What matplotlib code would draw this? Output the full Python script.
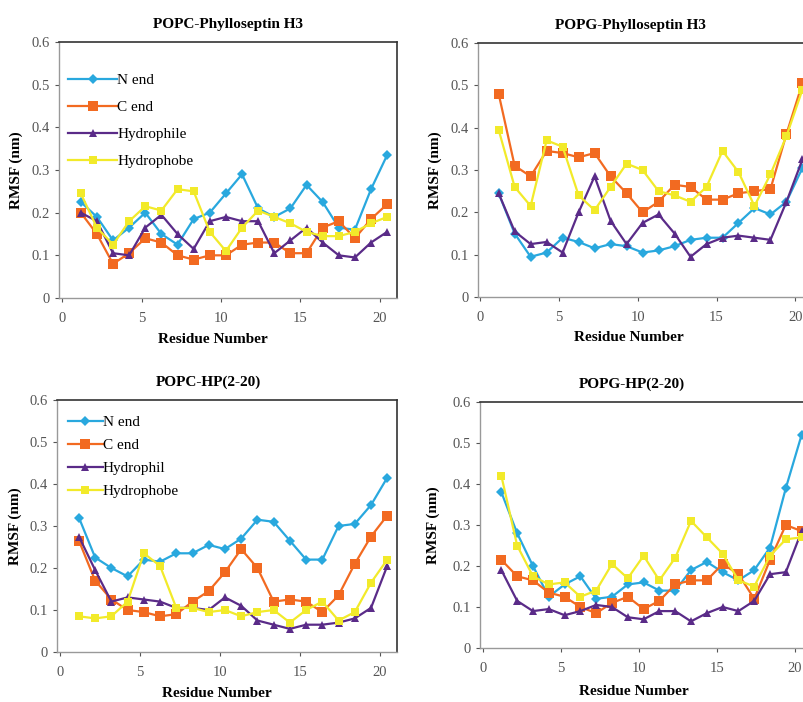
import numpy as np
import matplotlib
matplotlib.use("Agg")
import matplotlib.pyplot as plt

plt.rcParams['font.family'] = ['Liberation Serif', 'DejaVu Serif']

residues = np.arange(1, 21)
series_names_top = ["N end", "C end", "Hydrophile", "Hydrophobe"]
series_names_bottom = ["N end", "C end", "Hydrophil", "Hydrophobe"]
titles = ["POPC-Phylloseptin H3", "POPG-Phylloseptin H3", "POPC-HP(2-20)", "POPG-HP(2-20)"]

# POPC-Phylloseptin H3
p1_nend = [0.225, 0.19, 0.135, 0.165, 0.20, 0.15, 0.125, 0.185, 0.20, 0.245, 0.29, 0.21, 0.19, 0.21, 0.265, 0.225, 0.165, 0.16, 0.255, 0.335]
p1_cend = [0.20, 0.15, 0.08, 0.105, 0.14, 0.13, 0.10, 0.09, 0.10, 0.10, 0.125, 0.13, 0.13, 0.105, 0.105, 0.165, 0.18, 0.14, 0.185, 0.22]
p1_phil = [0.20, 0.18, 0.105, 0.10, 0.165, 0.195, 0.15, 0.115, 0.18, 0.19, 0.18, 0.18, 0.105, 0.135, 0.165, 0.13, 0.10, 0.095, 0.13, 0.155]
p1_phob = [0.245, 0.165, 0.125, 0.18, 0.215, 0.205, 0.255, 0.25, 0.155, 0.11, 0.165, 0.205, 0.19, 0.175, 0.155, 0.145, 0.145, 0.155, 0.175, 0.19]

# POPG-Phylloseptin H3
p2_nend = [0.245, 0.15, 0.095, 0.105, 0.14, 0.13, 0.115, 0.125, 0.12, 0.105, 0.11, 0.12, 0.135, 0.14, 0.14, 0.175, 0.21, 0.195, 0.225, 0.305]
p2_cend = [0.48, 0.31, 0.285, 0.345, 0.34, 0.33, 0.34, 0.285, 0.245, 0.20, 0.225, 0.265, 0.26, 0.23, 0.23, 0.245, 0.25, 0.255, 0.385, 0.505]
p2_phil = [0.245, 0.155, 0.125, 0.13, 0.105, 0.20, 0.285, 0.18, 0.125, 0.175, 0.195, 0.15, 0.095, 0.125, 0.14, 0.145, 0.14, 0.135, 0.225, 0.325]
p2_phob = [0.395, 0.26, 0.215, 0.37, 0.355, 0.24, 0.205, 0.26, 0.315, 0.30, 0.25, 0.24, 0.225, 0.26, 0.345, 0.295, 0.215, 0.29, 0.38, 0.49]

# POPC-HP(2-20)
p3_nend = [0.32, 0.225, 0.20, 0.18, 0.22, 0.215, 0.235, 0.235, 0.255, 0.245, 0.27, 0.315, 0.31, 0.265, 0.22, 0.22, 0.30, 0.305, 0.35, 0.415]
p3_cend = [0.265, 0.17, 0.125, 0.10, 0.095, 0.085, 0.09, 0.12, 0.145, 0.19, 0.245, 0.20, 0.12, 0.125, 0.12, 0.095, 0.135, 0.21, 0.275, 0.325]
p3_phil = [0.275, 0.195, 0.12, 0.13, 0.125, 0.12, 0.105, 0.105, 0.10, 0.13, 0.11, 0.075, 0.065, 0.055, 0.065, 0.065, 0.07, 0.08, 0.105, 0.205]
p3_phob = [0.085, 0.08, 0.085, 0.12, 0.235, 0.205, 0.105, 0.105, 0.095, 0.10, 0.085, 0.095, 0.10, 0.07, 0.10, 0.12, 0.075, 0.095, 0.165, 0.22]

# POPG-HP(2-20)
p4_nend = [0.38, 0.28, 0.20, 0.125, 0.155, 0.175, 0.12, 0.125, 0.155, 0.16, 0.14, 0.14, 0.19, 0.21, 0.185, 0.165, 0.19, 0.245, 0.39, 0.52]
p4_cend = [0.215, 0.175, 0.165, 0.135, 0.125, 0.10, 0.085, 0.11, 0.125, 0.095, 0.115, 0.155, 0.165, 0.165, 0.205, 0.18, 0.12, 0.215, 0.30, 0.285]
p4_phil = [0.19, 0.115, 0.09, 0.095, 0.08, 0.09, 0.105, 0.10, 0.075, 0.07, 0.09, 0.09, 0.065, 0.085, 0.10, 0.09, 0.115, 0.18, 0.185, 0.285]
p4_phob = [0.42, 0.25, 0.175, 0.155, 0.16, 0.125, 0.14, 0.205, 0.17, 0.225, 0.165, 0.22, 0.31, 0.27, 0.23, 0.165, 0.15, 0.225, 0.265, 0.27]

colors = ['#29A8DE', '#F26A21', '#5A2B88', '#F2EA2A']
markers = ['D', 's', '^', 's']
msizes = [5, 7.5, 6, 5.5]

W, H = 804, 702
fig = plt.figure(figsize=(W / 100, H / 100), dpi=100)

def rect(l, r, t, b):
    return [l / W, 1 - b / H, (r - l) / W, (b - t) / H]

panels = [
    dict(rect=rect(59, 397, 42, 298), xlim=(-0.19, 21.07), data=[p1_nend, p1_cend, p1_phil, p1_phob],
         names=series_names_top, legend=True, tx=0.5, ylx=-0.107, xlx=0.456, xly=-0.135),
    dict(rect=rect(478, 819, 43, 297), xlim=(-0.13, 21.5), data=[p2_nend, p2_cend, p2_phil, p2_phob],
         names=series_names_top, legend=False, tx=0.446, ylx=-0.105, xlx=0.442, xly=-0.135),
    dict(rect=rect(57, 397, 400, 652), xlim=(-0.19, 21.06), data=[p3_nend, p3_cend, p3_phil, p3_phob],
         names=series_names_bottom, legend=True, tx=0.445, ylx=-0.103, xlx=0.47, xly=-0.14),
    dict(rect=rect(480, 818, 402, 648), xlim=(-0.19, 21.5), data=[p4_nend, p4_cend, p4_phil, p4_phob],
         names=series_names_bottom, legend=False, tx=0.45, ylx=-0.118, xlx=0.456, xly=-0.15),
]

xpos = np.linspace(1.18, 20.45, 20)

for i, p in enumerate(panels):
    ax = fig.add_axes(p['rect'])
    for vals, name, c, m, ms in zip(p['data'], p['names'], colors, markers, msizes):
        ax.plot(xpos, vals, color=c, marker=m, markersize=ms, linewidth=1.6,
                markeredgewidth=0, label=name)
    ax.set_xlim(*p['xlim'])
    ax.set_ylim(0, 0.6)
    ax.set_xticks([0, 5, 10, 15, 20])
    ax.set_yticks([0, 0.1, 0.2, 0.3, 0.4, 0.5, 0.6])
    ax.set_yticklabels(['0', '0.1', '0.2', '0.3', '0.4', '0.5', '0.6'])
    ax.tick_params(labelsize=10.5, colors='#555555', length=3, width=0.8)
    ax.tick_params(axis='x', pad=7)
    for s in ['left', 'bottom']:
        ax.spines[s].set_color('#999999')
        ax.spines[s].set_linewidth(1.0)
    for s in ['top', 'right']:
        ax.spines[s].set_color('#333333')
        ax.spines[s].set_linewidth(1.2)
    ax.set_title(titles[i], fontsize=11, fontweight='bold', pad=10, x=p['tx'])
    ax.set_ylabel('RMSF (nm)', fontsize=11, fontweight='bold')
    ax.yaxis.set_label_coords(p['ylx'], 0.5)
    ax.set_xlabel('Residue Number', fontsize=11, fontweight='bold')
    ax.xaxis.set_label_coords(p['xlx'], p['xly'])
    if p['legend']:
        if i == 0:
            ax.legend(loc='upper left', bbox_to_anchor=(0.0, 0.913), frameon=False,
                      fontsize=11, handlelength=3.2, handletextpad=0.0,
                      labelspacing=0.87, borderaxespad=0.2)
        else:
            ax.legend(loc='upper left', bbox_to_anchor=(0.005, 0.976), frameon=False,
                      fontsize=11, handlelength=2.3, handletextpad=0.0,
                      labelspacing=0.62, borderaxespad=0.2)

fig.savefig('out.png', dpi=100)
